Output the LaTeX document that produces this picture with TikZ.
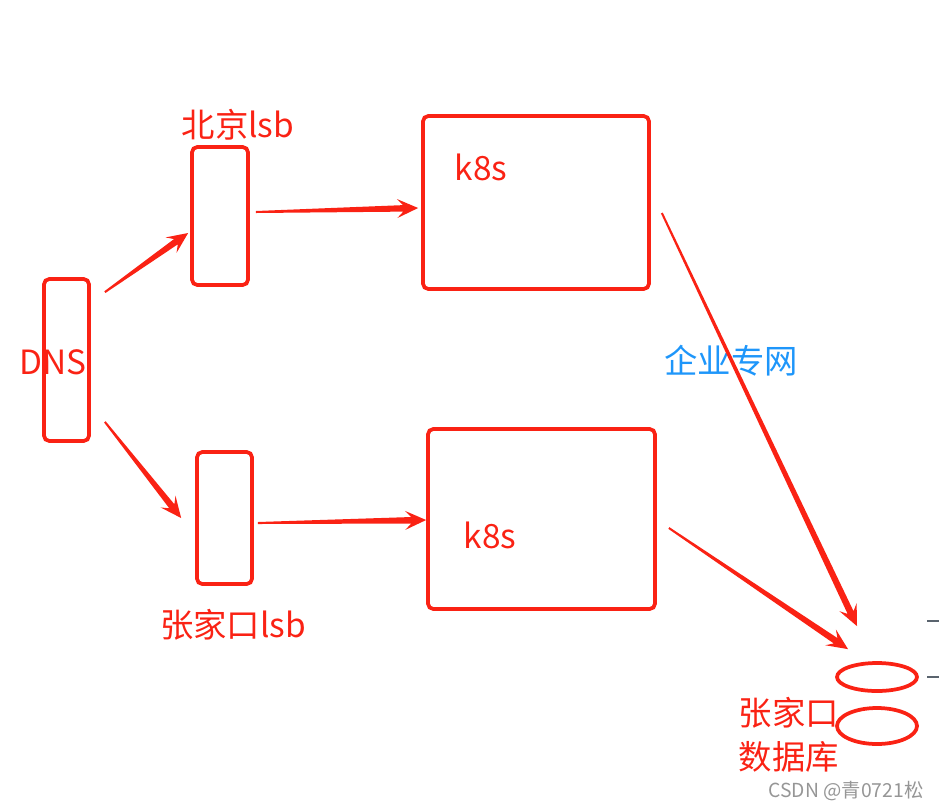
\documentclass[tikz,border=0pt]{standalone}
\usepackage{fontspec}
\usepackage{tikz}
\usetikzlibrary{shapes.geometric, calc}
\newfontfamily\cjk{Noto Sans CJK SC}
\definecolor{linered}{RGB}{250, 34, 20}
\definecolor{netblue}{RGB}{30, 150, 250}
\definecolor{markgray}{RGB}{150, 150, 150}
\definecolor{tickgray}{RGB}{90, 100, 110}
\tikzstyle{server} = [rectangle, rounded corners=3pt, draw=linered, line width=0.075cm, inner sep=0pt]
\tikzstyle{dbdisk} = [ellipse, draw=linered, line width=0.075cm, inner sep=0pt]
\tikzstyle{label} = [text=linered, font=\cjk\fontsize{19}{25}\selectfont, inner sep=0pt]
% tapered arrow, thin at the start, stealth head at the end
\newcommand{\taperarrow}[2]{%
  \coordinate (ta-s) at (#1);
  \coordinate (ta-t) at (#2);
  \coordinate (ta-h) at ($(ta-t)!0.42cm!(ta-s)$);
  \coordinate (ta-n) at ($(ta-t)!0.3cm!(ta-s)$);
  \fill[linered] ($(ta-s)!0.02cm!90:(ta-t)$) -- ($(ta-n)!0.065cm!90:(ta-t)$)
    -- ($(ta-h)!0.19cm!90:(ta-t)$) -- (ta-t) -- ($(ta-h)!0.19cm!-90:(ta-t)$)
    -- ($(ta-n)!0.065cm!-90:(ta-t)$) -- ($(ta-s)!0.02cm!-90:(ta-t)$) -- cycle;
}

\begin{document}
\begin{tikzpicture}[x=0.02cm, y=-0.02cm]
    \useasboundingbox (0,0) rectangle (939,809);
    % Nodes
    \node (dns) [server, minimum width=0.9cm, minimum height=3.24cm] at (66.5,360) {};
    \node (bj) [server, minimum width=1.12cm, minimum height=2.76cm] at (220,216) {};
    \node (zjk) [server, minimum width=1.1cm, minimum height=2.64cm] at (224.5,518) {};
    \node (k8sa) [server, minimum width=4.52cm, minimum height=3.46cm] at (536,202.5) {};
    \node (k8sb) [server, minimum width=4.54cm, minimum height=3.6cm] at (541.5,519) {};
    \node (db1) [dbdisk, minimum width=1.6cm, minimum height=0.56cm] at (877,677) {};
    \node (db2) [dbdisk, minimum width=1.6cm, minimum height=0.72cm] at (877,726) {};

    % Labels
    \node (dnstext) [label] at (53,362) {DNS};
    \node (bjtext) [label] at (238,125) {北京lsb};
    \node (zjktext) [label] at (233,625) {张家口lsb};
    \node (k8satext) [label] at (481,167) {k8s};
    \node (k8sbtext) [label] at (490,535) {k8s};
    \node (dbtext) [label, align=left] at (789,735) {张家口\\数据库};
    \node (nettext) [label, text=netblue] at (731,361) {企业专网};

    % Arrows
    \taperarrow{[shift={(14,15)}]dns.north east}{[shift={(-2,17)}]bj.west}
    \taperarrow{[shift={(14,-21)}]dns.south east}{[shift={(-14,0)}]zjk.west}
    \taperarrow{[shift={(6,-4)}]bj.east}{[shift={(-3,5.5)}]k8sa.west}
    \taperarrow{[shift={(4,5)}]zjk.east}{[shift={(0,1)}]k8sb.west}
    \taperarrow{[shift={(11,10.5)}]k8sa.east}{[shift={(-20,-35)}]db1.north}
    \taperarrow{[shift={(12,9)}]k8sb.east}{[shift={(-29,-12)}]db1.north}

    % Edge marks and watermark
    \draw[tickgray, line width=0.03cm] (927,621) -- (939,621);
    \draw[tickgray, line width=0.03cm] (927,677) -- (939,677);
    \node (mark) [text=markgray, font=\cjk\fontsize{11}{13}\selectfont, inner sep=0pt] at (846,791) {CSDN @青0721松};
\end{tikzpicture}
\end{document}
